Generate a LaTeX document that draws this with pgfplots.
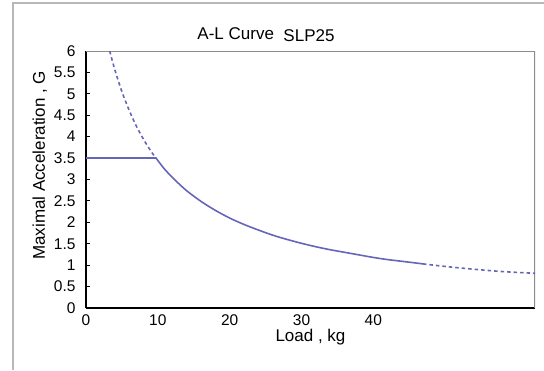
\documentclass[border=0pt]{standalone}
\usepackage{fontspec}
\setmainfont{Liberation Sans}
\usepackage{pgfplots}
\pgfplotsset{compat=1.18}
\definecolor{curve}{RGB}{102,102,184}
\begin{document}
\begin{tikzpicture}[x=1pt,y=1pt]
\path[use as bounding box] (0,0) rectangle (544,370);
\draw[line width=1.5pt, color=black!28] (13,0) -- (13,367) -- (544,367);
\node[font=\fontsize{17}{20}\selectfont, anchor=base] at (266,330) {A-L Curve\ \ \raisebox{-1.5pt}{SLP25}};
\begin{axis}[
  at={(86pt,62pt)}, anchor=south west, scale only axis,
  width=449pt, height=257pt,
  xmin=0, xmax=62.5, ymin=0, ymax=6,
  axis x line*=bottom, axis y line*=left,
  axis line style={line width=1.4pt, -},
  tick align=inside,
  tick style={black, line width=0.9pt},
  ytick={0,0.5,1,1.5,2,2.5,3,3.5,4,4.5,5,5.5,6},
  major tick length=4pt,
  xtick={0,10,20,30,40},
  x tick style={draw=none},
  extra x ticks={15.625,31.25,46.875},
  extra x tick labels={},
  extra x tick style={tick style={draw=black, line width=0.9pt}, major tick length=5pt},
  /pgf/number format/assume math mode=true,
  ticklabel style={font=\fontsize{15.5}{18}\selectfont},
  yticklabel style={xshift=-7pt},
  xticklabel style={yshift=-3pt},
  xlabel={Load , kg},
  ylabel={Maximal Acceleration , G},
  label style={font=\fontsize{17}{20}\selectfont},
  xlabel style={yshift=3pt},
  ylabel style={at={(ticklabel cs:0.555)}},
]
\draw[line width=1.4pt, black!45] (rel axis cs:0,1) -- (rel axis cs:1,1) -- (rel axis cs:1,0);
% flat part
\addplot[curve, line width=1.6pt] coordinates {(0,3.5) (9.7,3.5)};
% dashed upper part
\addplot[curve, line width=1.6pt, smooth, dash pattern=on 3.5pt off 3pt] coordinates {
 (3.3,6.00) (4,5.57) (5,5.05) (6,4.62) (7,4.25) (8,3.94) (9,3.67) (9.7,3.51)};
% solid part
\addplot[curve, line width=1.6pt, smooth] coordinates {
 (9.7,3.51) (11,3.23) (12.5,2.97) (14,2.74) (16,2.49) (18,2.28) (20,2.10)
 (22,1.95) (24,1.82) (26,1.70) (28,1.60) (30,1.51) (32,1.43) (34,1.36)
 (36,1.30) (38,1.24) (40,1.18) (42,1.13) (44,1.09) (46.9,1.03)};
% dashed lower part
\addplot[curve, line width=1.6pt, smooth, dash pattern=on 3.5pt off 3pt] coordinates {
 (46.9,1.03) (50,0.97) (54,0.905) (58,0.85) (62.5,0.81)};
\end{axis}
\end{tikzpicture}
\end{document}
